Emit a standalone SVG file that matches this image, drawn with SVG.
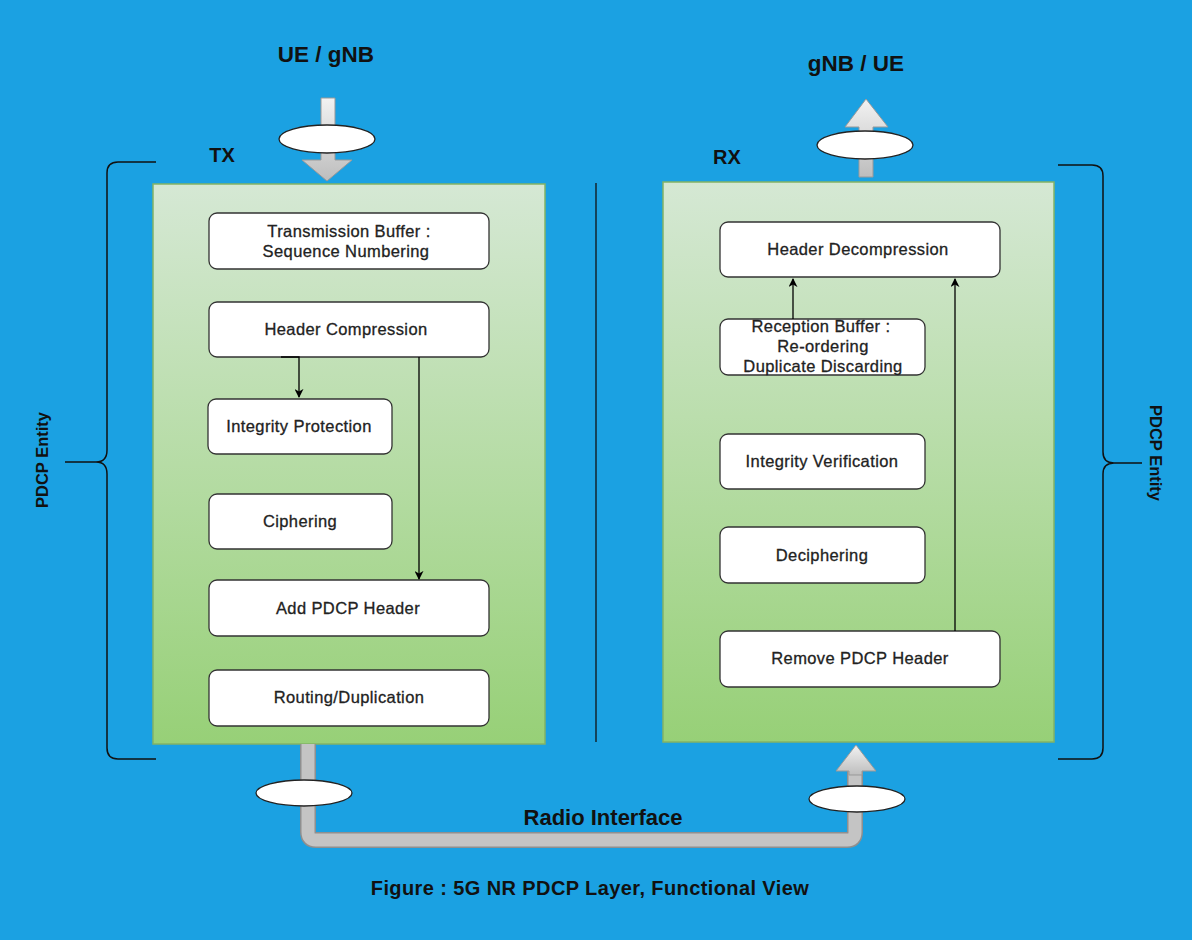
<svg xmlns="http://www.w3.org/2000/svg" width="1192" height="940" viewBox="0 0 1192 940">
<defs>
<linearGradient id="panel" x1="0" y1="0" x2="0" y2="1">
<stop offset="0" stop-color="#d5e8d4"/>
<stop offset="1" stop-color="#97d077"/>
</linearGradient>
<linearGradient id="gray" x1="0" y1="0" x2="0" y2="1">
<stop offset="0" stop-color="#f2f2f2"/>
<stop offset="1" stop-color="#bdbdbd"/>
</linearGradient>
<marker id="ah" viewBox="0 0 10 10" refX="9" refY="5" markerWidth="9" markerHeight="9" orient="auto" markerUnits="userSpaceOnUse">
<path d="M0,0 L10,5 L0,10 L3,5 Z" fill="#000"/>
</marker>
</defs>
<style>
.panel{fill:url(#panel);stroke:#82b366;stroke-width:1.5}
.box{fill:#fff;stroke:#333;stroke-width:1.3}
.lbl{font-family:"Liberation Sans",Arial,sans-serif;font-size:16.5px;letter-spacing:0.4px;fill:#222;stroke:#222;stroke-width:0.3;text-anchor:middle}
.title{font-family:"Liberation Sans",Arial,sans-serif;font-weight:bold;fill:#111;text-anchor:middle}
.conn{fill:none;stroke:#000;stroke-width:1.3}
.brace{fill:none;stroke:#111;stroke-width:1.5}
.ell{fill:#fff;stroke:#222;stroke-width:1.3}
.garrow{fill:url(#gray);stroke:#999;stroke-width:1}
</style>
<rect x="0" y="0" width="1192" height="940" fill="#1ba1e2"/>

<text class="title" x="326" y="62" font-size="22.5">UE / gNB</text>
<text class="title" x="856" y="71" font-size="22.5">gNB / UE</text>

<g id="tx-panel">
<rect class="panel" x="153" y="184" width="392" height="560"/>
<text class="title" x="222" y="162" font-size="20">TX</text>
</g>
<g id="rx-panel">
<rect class="panel" x="663" y="182" width="391" height="560"/>
<text class="title" x="727" y="164" font-size="20">RX</text>
</g>

<line x1="596" y1="183" x2="596" y2="742" stroke="#111" stroke-width="1.3"/>

<g id="brace-left">
<path class="brace" d="M156,162 L118,162 Q107,162 107,173 L107,450 Q107,462 96,462 L65,462 M96,462 Q107,462 107,474 L107,748 Q107,759 118,759 L156,759"/>
<text class="title" font-size="16.5" transform="translate(48,460) rotate(-90)">PDCP Entity</text>
</g>
<g id="brace-right">
<path class="brace" d="M1058,165 L1092,165 Q1103,165 1103,176 L1103,452 Q1103,463 1114,463 L1142,463 M1114,463 Q1103,463 1103,474 L1103,748 Q1103,759 1092,759 L1058,759"/>
<text class="title" font-size="16.5" transform="translate(1150,453) rotate(90)">PDCP Entity</text>
</g>

<g id="tx-boxes">
<g id="tx-buffer"><rect class="box" x="209" y="213" width="280" height="56" rx="8"/>
<text class="lbl" x="349" y="237">Transmission Buffer :</text>
<text class="lbl" x="346" y="257">Sequence Numbering</text></g>
<g id="header-compression"><rect class="box" x="209" y="302" width="280" height="55" rx="8"/>
<text class="lbl" x="346" y="335">Header Compression</text></g>
<g id="integrity-protection"><rect class="box" x="208" y="399" width="184" height="55" rx="8"/>
<text class="lbl" x="299" y="432">Integrity Protection</text></g>
<g id="ciphering"><rect class="box" x="209" y="494" width="183" height="55" rx="8"/>
<text class="lbl" x="300" y="527">Ciphering</text></g>
<g id="add-pdcp-header"><rect class="box" x="209" y="580" width="280" height="56" rx="8"/>
<text class="lbl" x="348" y="614">Add PDCP Header</text></g>
<g id="routing"><rect class="box" x="209" y="670" width="280" height="56" rx="8"/>
<text class="lbl" x="349" y="703">Routing/Duplication</text></g>
</g>

<g id="rx-boxes">
<g id="header-decompression"><rect class="box" x="720" y="222" width="280" height="55" rx="8"/>
<text class="lbl" x="858" y="255">Header Decompression</text></g>
<g id="reception-buffer"><rect class="box" x="720" y="319" width="205" height="56" rx="8"/>
<text class="lbl" x="821" y="332">Reception Buffer :</text>
<text class="lbl" x="823" y="352">Re-ordering</text>
<text class="lbl" x="823" y="372">Duplicate Discarding</text></g>
<g id="integrity-verification"><rect class="box" x="720" y="434" width="205" height="55" rx="8"/>
<text class="lbl" x="822" y="467">Integrity Verification</text></g>
<g id="deciphering"><rect class="box" x="720" y="527" width="205" height="56" rx="8"/>
<text class="lbl" x="822" y="561">Deciphering</text></g>
<g id="remove-pdcp-header"><rect class="box" x="720" y="631" width="280" height="56" rx="8"/>
<text class="lbl" x="860" y="664">Remove PDCP Header</text></g>
</g>

<g id="connectors">
<path class="conn" d="M281,357 L299,357 L299,397" marker-end="url(#ah)"/>
<path class="conn" d="M419,357 L419,579" marker-end="url(#ah)"/>
<path class="conn" d="M793,319 L793,279" marker-end="url(#ah)"/>
<path class="conn" d="M955,631 L955,279" marker-end="url(#ah)"/>
</g>

<g id="io-arrows">
<polygon class="garrow" points="321,98 335,98 335,160 352,160 327,181 302,160 321,160"/>
<ellipse class="ell" cx="327" cy="139" rx="48" ry="14"/>
<polygon class="garrow" points="866,99 888,127 873,127 873,177 859,177 859,127 845,127"/>
<ellipse class="ell" cx="865" cy="145" rx="48" ry="14"/>
</g>

<g id="radio-interface">
<path d="M308,744 L308,832 Q308,840 316,840 L847,840 Q855,840 855,832 L855,770" fill="none" stroke="#8f8f8f" stroke-width="16" stroke-linejoin="round"/>
<path d="M308,744 L308,832 Q308,840 316,840 L847,840 Q855,840 855,832 L855,768" fill="none" stroke="#c4c4c4" stroke-width="13" stroke-linejoin="round"/>
<polygon class="garrow" points="856,745 876,771 862,771 862,775 849,775 849,771 836,771"/>
<ellipse class="ell" cx="304" cy="793" rx="48" ry="13"/>
<ellipse class="ell" cx="857" cy="799" rx="48" ry="13"/>
<text class="title" x="603" y="825" font-size="22">Radio Interface</text>
</g>

<text class="title" x="590" y="895" font-size="20" letter-spacing="0.4">Figure : 5G NR PDCP Layer, Functional View</text>
</svg>
